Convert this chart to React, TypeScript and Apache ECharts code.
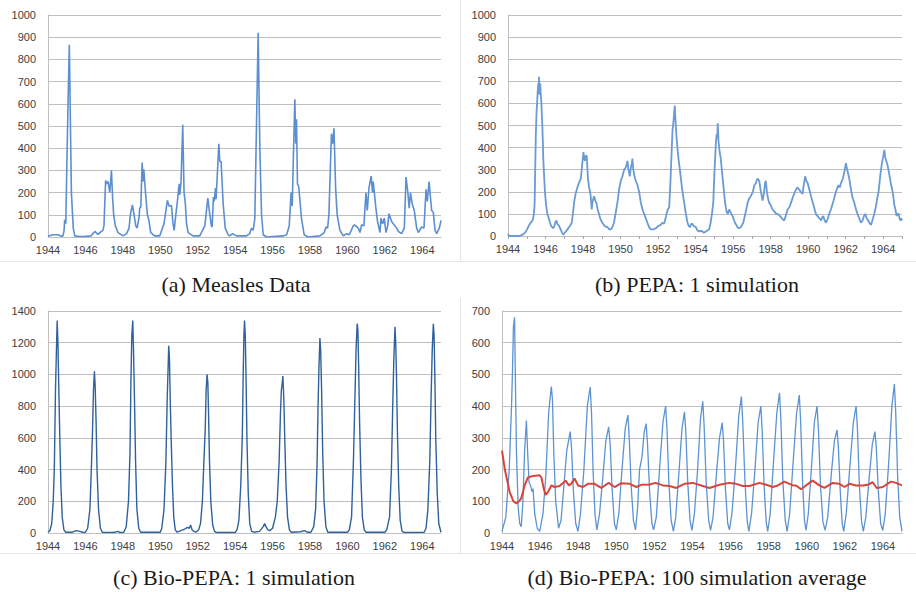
import React, { useEffect, useRef } from "react";
import * as echarts from "echarts";

// ---- Tick labels / axes ----
const yearLabels = [1944, 1946, 1948, 1950, 1952, 1954, 1956, 1958, 1960, 1962, 1964];
const captions = [
  "(a) Measles Data",
  "(b) PEPA: 1 simulation",
  "(c) Bio-PEPA: 1 simulation",
  "(d) Bio-PEPA: 100 simulation average",
];
const yMax = [1000, 1000, 1400, 700];
const yStep = [100, 100, 200, 100];

// ---- (a) Measles data [year, cases] ----
const measles = [
  [1944.0, 3], [1944.27, 10], [1944.53, 10], [1944.7, 4], [1944.8, 5], [1944.86, 30], [1944.89, 78], [1944.95, 60],
  [1944.98, 200], [1945.07, 600], [1945.14, 866], [1945.2, 500], [1945.25, 200], [1945.35, 40], [1945.43, 5],
  [1945.69, 2], [1946.0, 3], [1946.3, 5], [1946.5, 25], [1946.67, 12], [1946.85, 25], [1946.93, 30], [1946.99, 50],
  [1947.08, 255], [1947.14, 240], [1947.21, 250], [1947.3, 200], [1947.39, 300], [1947.45, 180], [1947.51, 100],
  [1947.6, 50], [1947.74, 20], [1948.01, 5], [1948.2, 15], [1948.33, 40], [1948.4, 100], [1948.51, 145], [1948.6, 100],
  [1948.69, 50], [1948.76, 40], [1948.87, 90], [1948.9, 130], [1948.96, 135], [1949.03, 335], [1949.08, 250],
  [1949.12, 305], [1949.21, 200], [1949.31, 100], [1949.38, 80], [1949.49, 20], [1949.7, 5], [1949.97, 5],
  [1950.2, 60], [1950.38, 165], [1950.47, 140], [1950.6, 140], [1950.68, 60], [1950.74, 30], [1950.83, 100],
  [1950.9, 150], [1951.01, 240], [1951.04, 190], [1951.11, 250], [1951.2, 505], [1951.27, 200], [1951.34, 150],
  [1951.4, 60], [1951.49, 20], [1951.75, 5], [1952.11, 5], [1952.38, 50], [1952.54, 175], [1952.65, 100],
  [1952.73, 50], [1952.77, 45], [1952.84, 180], [1952.88, 160], [1952.95, 220], [1952.98, 170], [1953.13, 420],
  [1953.18, 340], [1953.25, 340], [1953.36, 150], [1953.47, 40], [1953.63, 10], [1953.71, 5], [1953.86, 15],
  [1954.07, 5], [1954.61, 5], [1954.78, 15], [1954.87, 40], [1954.96, 30], [1955.05, 80], [1955.14, 500],
  [1955.23, 920], [1955.32, 400], [1955.41, 100], [1955.5, 10], [1955.68, 0], [1956.57, 5], [1956.75, 10],
  [1956.89, 50], [1956.99, 200], [1957.05, 140], [1957.1, 320], [1957.19, 620], [1957.24, 420], [1957.28, 530],
  [1957.33, 240], [1957.4, 225], [1957.55, 80], [1957.69, 10], [1957.9, 0], [1958.53, 5], [1958.76, 20],
  [1958.85, 45], [1958.94, 40], [1959.01, 100], [1959.12, 400], [1959.15, 465], [1959.21, 420], [1959.28, 490],
  [1959.37, 220], [1959.45, 100], [1959.6, 30], [1959.78, 5], [1959.95, 15], [1960.1, 10], [1960.31, 50],
  [1960.38, 55], [1960.58, 40], [1960.67, 20], [1960.76, 55], [1960.88, 50], [1960.99, 200], [1961.06, 120],
  [1961.15, 220], [1961.27, 275], [1961.34, 200], [1961.38, 250], [1961.52, 130], [1961.61, 70], [1961.74, 20],
  [1961.79, 85], [1961.88, 60], [1961.97, 85], [1962.06, 20], [1962.15, 50], [1962.22, 105], [1962.36, 70],
  [1962.63, 40], [1962.72, 25], [1962.89, 15], [1963.04, 40], [1963.13, 270], [1963.23, 200], [1963.3, 130],
  [1963.37, 200], [1963.46, 150], [1963.57, 120], [1963.7, 40], [1963.79, 20], [1963.96, 45], [1964.09, 40],
  [1964.2, 215], [1964.27, 160], [1964.36, 250], [1964.5, 120], [1964.59, 110], [1964.68, 30], [1964.77, 15],
  [1964.91, 40], [1965.0, 75],
];

// ---- (b) PEPA single simulation ----
const pepa = [
  [1944.0, 10], [1944.05, 0], [1944.6, 0], [1944.75, 5], [1944.85, 10], [1944.95, 20], [1945.02, 30], [1945.1, 45],
  [1945.2, 60], [1945.27, 65], [1945.33, 75], [1945.38, 100], [1945.42, 150], [1945.45, 300], [1945.48, 450],
  [1945.52, 560], [1945.55, 600], [1945.58, 650], [1945.61, 690], [1945.63, 640], [1945.65, 720], [1945.68, 660],
  [1945.7, 640], [1945.72, 690], [1945.74, 650], [1945.78, 600], [1945.83, 500], [1945.86, 420], [1945.88, 350],
  [1945.92, 280], [1945.97, 200], [1946.03, 140], [1946.1, 100], [1946.17, 80], [1946.24, 60], [1946.3, 45],
  [1946.36, 40], [1946.42, 35], [1946.47, 45], [1946.52, 60], [1946.58, 70], [1946.63, 55], [1946.69, 50],
  [1946.75, 40], [1946.81, 30], [1946.88, 15], [1946.95, 5], [1947.02, 15], [1947.08, 20], [1947.17, 30],
  [1947.25, 40], [1947.33, 50], [1947.4, 60], [1947.46, 100], [1947.52, 150], [1947.6, 190], [1947.7, 220],
  [1947.78, 240], [1947.88, 260], [1947.95, 320], [1948.02, 380], [1948.06, 350], [1948.1, 340], [1948.15, 365],
  [1948.2, 360], [1948.26, 260], [1948.32, 220], [1948.37, 200], [1948.41, 180], [1948.46, 120], [1948.5, 150],
  [1948.55, 170], [1948.59, 180], [1948.65, 160], [1948.71, 150], [1948.78, 120], [1948.85, 100], [1948.93, 75],
  [1949.03, 60], [1949.15, 45], [1949.3, 40], [1949.4, 30], [1949.48, 30], [1949.56, 40], [1949.65, 60],
  [1949.73, 100], [1949.83, 150], [1949.92, 210], [1950.01, 250], [1950.1, 270], [1950.19, 300], [1950.28, 310],
  [1950.37, 340], [1950.42, 300], [1950.49, 270], [1950.55, 310], [1950.6, 330], [1950.63, 350], [1950.68, 300],
  [1950.74, 270], [1950.81, 250], [1950.9, 230], [1950.99, 200], [1951.08, 150], [1951.17, 120], [1951.3, 90],
  [1951.43, 60], [1951.52, 40], [1951.61, 30], [1951.75, 30], [1951.88, 35], [1952.0, 45], [1952.14, 50],
  [1952.22, 60], [1952.32, 55], [1952.4, 80], [1952.45, 100], [1952.52, 120], [1952.59, 130], [1952.66, 250],
  [1952.73, 400], [1952.77, 480], [1952.8, 500], [1952.85, 550], [1952.89, 590], [1952.93, 520], [1952.98, 450],
  [1953.05, 380], [1953.1, 340], [1953.16, 300], [1953.27, 220], [1953.39, 150], [1953.48, 100], [1953.57, 60],
  [1953.64, 45], [1953.7, 40], [1953.77, 55], [1953.83, 55], [1953.9, 45], [1954.01, 40], [1954.1, 25],
  [1954.19, 20], [1954.3, 25], [1954.42, 15], [1954.54, 20], [1954.63, 25], [1954.72, 30], [1954.8, 60],
  [1954.87, 100], [1954.94, 150], [1955.0, 280], [1955.04, 350], [1955.08, 420], [1955.12, 460], [1955.15, 440],
  [1955.18, 510], [1955.22, 430], [1955.28, 380], [1955.34, 350], [1955.42, 280], [1955.49, 220], [1955.57, 150],
  [1955.65, 110], [1955.72, 100], [1955.78, 120], [1955.82, 115], [1955.88, 105], [1955.97, 90], [1956.1, 60],
  [1956.23, 40], [1956.32, 35], [1956.41, 40], [1956.48, 50], [1956.54, 60], [1956.62, 90], [1956.7, 120],
  [1956.77, 150], [1956.85, 170], [1956.94, 180], [1957.05, 200], [1957.13, 230], [1957.21, 240], [1957.3, 260],
  [1957.39, 250], [1957.48, 200], [1957.57, 160], [1957.65, 200], [1957.7, 240], [1957.74, 250], [1957.8, 200],
  [1957.86, 170], [1957.92, 150], [1958.0, 140], [1958.1, 120], [1958.2, 110], [1958.3, 100], [1958.37, 100],
  [1958.5, 90], [1958.6, 80], [1958.72, 70], [1958.8, 90], [1958.9, 120], [1959.0, 130], [1959.08, 150],
  [1959.2, 180], [1959.35, 210], [1959.42, 220], [1959.52, 210], [1959.6, 200], [1959.7, 190], [1959.76, 230],
  [1959.84, 270], [1959.9, 250], [1959.97, 240], [1960.06, 210], [1960.15, 180], [1960.28, 140], [1960.41, 100],
  [1960.5, 90], [1960.6, 80], [1960.68, 70], [1960.75, 85], [1960.8, 90], [1960.88, 70], [1960.95, 60],
  [1961.05, 80], [1961.12, 100], [1961.21, 120], [1961.35, 160], [1961.48, 200], [1961.6, 230], [1961.68, 220],
  [1961.75, 240], [1961.85, 260], [1961.95, 300], [1962.01, 330], [1962.08, 300], [1962.19, 260], [1962.3, 200],
  [1962.38, 170], [1962.46, 150], [1962.55, 120], [1962.63, 100], [1962.72, 80], [1962.81, 60], [1962.9, 70],
  [1962.97, 90], [1963.04, 100], [1963.12, 80], [1963.2, 70], [1963.26, 60], [1963.35, 50], [1963.42, 70],
  [1963.52, 100], [1963.6, 130], [1963.68, 170], [1963.75, 200], [1963.85, 280], [1963.93, 330], [1964.0, 360],
  [1964.06, 390], [1964.1, 360], [1964.16, 340], [1964.23, 320], [1964.32, 280], [1964.4, 240], [1964.5, 200],
  [1964.55, 170], [1964.59, 140], [1964.65, 120], [1964.71, 90], [1964.76, 100], [1964.82, 100], [1964.87, 80],
  [1964.91, 70], [1964.96, 80], [1965.0, 70],
];

// ---- (c) Bio-PEPA single simulation ----
const bioSingle = [
  [1944.0, 5], [1944.1, 15], [1944.2, 60], [1944.28, 200], [1944.34, 420], [1944.4, 900], [1944.45, 1150],
  [1944.49, 1340], [1944.53, 1200], [1944.58, 900], [1944.63, 600], [1944.69, 300], [1944.76, 100], [1944.85, 20],
  [1944.95, 5], [1945.3, 5], [1945.5, 15], [1945.7, 10], [1945.9, 3],
  [1946.0, 5], [1946.12, 30], [1946.24, 150], [1946.32, 420], [1946.38, 650], [1946.43, 900], [1946.48, 1020],
  [1946.52, 930], [1946.57, 700], [1946.62, 400], [1946.7, 150], [1946.8, 30], [1946.9, 5], [1947.5, 3],
  [1947.75, 10], [1947.85, 3],
  [1948.05, 5], [1948.18, 40], [1948.3, 200], [1948.38, 500], [1948.43, 950], [1948.48, 1250], [1948.53, 1340],
  [1948.57, 1150], [1948.62, 850], [1948.68, 450], [1948.75, 150], [1948.85, 30], [1948.95, 5], [1950.0, 5],
  [1950.08, 30], [1950.2, 150], [1950.3, 450], [1950.37, 850], [1950.42, 1050], [1950.45, 1180], [1950.49, 1100],
  [1950.53, 850], [1950.58, 600], [1950.65, 300], [1950.72, 100], [1950.8, 20], [1950.9, 5], [1951.1, 15],
  [1951.3, 25], [1951.45, 35], [1951.55, 30], [1951.62, 50], [1951.7, 20], [1951.8, 10], [1951.9, 5],
  [1952.05, 20], [1952.15, 60], [1952.25, 200], [1952.33, 450], [1952.4, 650], [1952.45, 900], [1952.5, 1000],
  [1952.54, 950], [1952.58, 750], [1952.63, 450], [1952.7, 200], [1952.8, 50], [1952.9, 10], [1953.0, 3],
  [1954.0, 3],
  [1954.1, 20], [1954.2, 80], [1954.3, 300], [1954.38, 600], [1954.43, 1000], [1954.47, 1250], [1954.5, 1340],
  [1954.54, 1250], [1954.58, 1000], [1954.63, 600], [1954.7, 250], [1954.78, 60], [1954.88, 10], [1955.0, 5],
  [1955.3, 10], [1955.5, 40], [1955.58, 60], [1955.65, 40], [1955.75, 20], [1955.85, 15],
  [1956.0, 30], [1956.15, 100], [1956.25, 200], [1956.35, 450], [1956.42, 750], [1956.47, 900], [1956.52, 950],
  [1956.55, 990], [1956.6, 850], [1956.65, 600], [1956.72, 300], [1956.8, 100], [1956.9, 20], [1957.0, 5],
  [1957.5, 8], [1957.7, 15], [1957.85, 5],
  [1958.05, 5], [1958.2, 40], [1958.3, 150], [1958.38, 450], [1958.43, 800], [1958.48, 1050], [1958.53, 1230],
  [1958.57, 1150], [1958.62, 900], [1958.68, 500], [1958.75, 200], [1958.85, 40], [1958.95, 5], [1960.0, 5],
  [1960.1, 20], [1960.22, 100], [1960.32, 450], [1960.4, 850], [1960.46, 1150], [1960.52, 1320], [1960.56, 1280],
  [1960.6, 1050], [1960.65, 700], [1960.72, 350], [1960.8, 100], [1960.9, 20], [1961.0, 5], [1962.0, 5],
  [1962.1, 20], [1962.25, 100], [1962.35, 400], [1962.42, 800], [1962.48, 1100], [1962.54, 1300], [1962.58, 1200],
  [1962.62, 1000], [1962.67, 650], [1962.74, 300], [1962.82, 80], [1962.92, 10], [1963.05, 3], [1964.1, 5],
  [1964.2, 30], [1964.3, 150], [1964.4, 450], [1964.47, 850], [1964.53, 1150], [1964.59, 1320], [1964.63, 1250],
  [1964.67, 1000], [1964.72, 600], [1964.8, 250], [1964.88, 60], [1965.0, 5],
];

// ---- (d) Bio-PEPA: one run (blue) and 100-run average (red) ----
const bioRun = [
  [1944.0, 5], [1944.2, 50], [1944.38, 200], [1944.5, 400], [1944.55, 510], [1944.6, 650], [1944.66, 680],
  [1944.7, 500], [1944.76, 250], [1944.85, 80], [1944.93, 30], [1945.01, 20],
  [1945.1, 100], [1945.18, 250], [1945.28, 355], [1945.35, 250], [1945.42, 160], [1945.5, 150], [1945.58, 130],
  [1945.63, 140], [1945.72, 60], [1945.85, 15], [1945.98, 5],
  [1946.15, 60], [1946.3, 180], [1946.45, 380], [1946.59, 462], [1946.65, 420], [1946.72, 250], [1946.82, 100], [1946.97, 15],
  [1947.1, 40], [1947.25, 150], [1947.4, 260], [1947.58, 320], [1947.65, 270], [1947.75, 130], [1947.87, 30], [1947.99, 5],
  [1948.12, 60], [1948.3, 200], [1948.48, 400], [1948.63, 460], [1948.7, 380], [1948.78, 200], [1948.88, 60], [1948.98, 10],
  [1949.12, 60], [1949.3, 180], [1949.45, 290], [1949.6, 335], [1949.68, 280], [1949.78, 140], [1949.9, 30], [1950.0, 10],
  [1950.13, 60], [1950.3, 200], [1950.47, 330], [1950.61, 372], [1950.68, 300], [1950.78, 150], [1950.9, 40], [1951.01, 10],
  [1951.12, 80], [1951.22, 200], [1951.27, 215], [1951.35, 240], [1951.47, 320], [1951.57, 345], [1951.64, 280],
  [1951.75, 130], [1951.87, 30], [1951.96, 10],
  [1952.1, 50], [1952.27, 200], [1952.45, 350], [1952.59, 400], [1952.66, 330], [1952.76, 160], [1952.88, 40], [1953.0, 5],
  [1953.12, 50], [1953.3, 200], [1953.45, 330], [1953.58, 382], [1953.65, 320], [1953.75, 160], [1953.87, 40], [1953.97, 8],
  [1954.1, 60], [1954.27, 200], [1954.42, 360], [1954.54, 415], [1954.61, 340], [1954.72, 160], [1954.85, 40], [1954.95, 8],
  [1955.08, 50], [1955.25, 180], [1955.42, 300], [1955.56, 348], [1955.63, 290], [1955.73, 140], [1955.85, 30], [1955.94, 10],
  [1956.07, 60], [1956.25, 200], [1956.43, 370], [1956.57, 430], [1956.64, 350], [1956.75, 170], [1956.87, 40], [1956.96, 5],
  [1957.1, 60], [1957.28, 200], [1957.45, 350], [1957.59, 400], [1957.66, 320], [1957.76, 150], [1957.87, 35], [1957.95, 5],
  [1958.08, 60], [1958.25, 220], [1958.43, 380], [1958.57, 442], [1958.64, 360], [1958.74, 170], [1958.87, 40], [1958.97, 5],
  [1959.1, 60], [1959.28, 220], [1959.47, 380], [1959.61, 435], [1959.68, 350], [1959.78, 160], [1959.88, 40], [1959.96, 8],
  [1960.08, 60], [1960.24, 200], [1960.4, 350], [1960.54, 400], [1960.61, 330], [1960.72, 150], [1960.85, 35], [1960.96, 8],
  [1961.1, 50], [1961.28, 180], [1961.45, 290], [1961.59, 325], [1961.66, 270], [1961.76, 130], [1961.86, 30], [1961.94, 5],
  [1962.07, 60], [1962.25, 200], [1962.45, 350], [1962.59, 400], [1962.66, 330], [1962.76, 150], [1962.88, 35], [1962.97, 5],
  [1963.1, 50], [1963.27, 170], [1963.44, 280], [1963.58, 320], [1963.65, 270], [1963.76, 130], [1963.88, 30], [1963.99, 8],
  [1964.12, 60], [1964.3, 220], [1964.47, 400], [1964.6, 470], [1964.67, 380], [1964.77, 180], [1964.88, 50], [1965.0, 5],
];

const bioAverage = [
  [1944.0, 260], [1944.15, 200], [1944.4, 130], [1944.6, 100], [1944.75, 93], [1944.9, 100], [1945.01, 110],
  [1945.19, 150], [1945.36, 175], [1945.63, 180], [1945.98, 182], [1946.07, 175], [1946.19, 140], [1946.29, 120],
  [1946.42, 130], [1946.59, 150], [1946.76, 145], [1947.02, 148], [1947.34, 165], [1947.51, 150], [1947.63, 155],
  [1947.81, 172], [1947.99, 150], [1948.25, 145], [1948.51, 155], [1948.86, 155], [1949.21, 142], [1949.6, 158],
  [1949.91, 145], [1950.26, 157], [1950.7, 155], [1951.05, 145], [1951.31, 152], [1951.75, 153], [1952.06, 158],
  [1952.45, 150], [1952.8, 148], [1953.15, 142], [1953.58, 155], [1954.02, 158], [1954.46, 150], [1954.89, 142],
  [1955.42, 152], [1955.94, 158], [1956.29, 155], [1956.64, 148], [1956.99, 148], [1957.52, 158], [1957.87, 152],
  [1958.22, 145], [1958.48, 150], [1958.83, 162], [1959.27, 150], [1959.44, 150], [1959.7, 138], [1959.96, 150],
  [1960.31, 165], [1960.66, 150], [1960.93, 142], [1961.36, 158], [1961.71, 155], [1961.98, 145], [1962.24, 155],
  [1962.59, 150], [1962.94, 150], [1963.2, 152], [1963.46, 160], [1963.67, 142], [1963.99, 145], [1964.42, 162],
  [1964.69, 158], [1965.0, 150],
];

const GRID_COLOR = "#bfbfbf";
const LABEL_COLOR = "#404040";
const LABEL_FONT = "Liberation Sans";

export default function App() {
  const ref = useRef<HTMLDivElement>(null);

  useEffect(() => {
    if (!ref.current) return;
    const chart = echarts.init(ref.current, undefined, { renderer: "svg" });

    const grids = [
      { left: 48, top: 15, width: 393, height: 222 },
      { left: 508, top: 15, width: 394, height: 221 },
      { left: 48, top: 311, width: 393, height: 222 },
      { left: 502, top: 311, width: 400, height: 222 },
    ];

    const xAxes = grids.map((_, i) => ({
      type: "value",
      gridIndex: i,
      min: 1944,
      max: 1965,
      interval: 1,
      axisLine: { show: true, lineStyle: { color: GRID_COLOR, width: 1 } },
      axisTick: { show: i === 1, length: 3, inside: false, lineStyle: { color: "#a6a6a6" } },
      splitLine: { show: false },
      axisLabel: {
        color: LABEL_COLOR,
        fontFamily: LABEL_FONT,
        fontSize: 11,
        margin: 7,
        formatter: (v: number) => (yearLabels.indexOf(v) >= 0 ? String(v) : ""),
      },
    }));

    const yAxes = grids.map((_, i) => ({
      type: "value",
      gridIndex: i,
      min: 0,
      max: yMax[i],
      interval: yStep[i],
      axisLine: { show: true, lineStyle: { color: GRID_COLOR, width: 1 } },
      axisTick: { show: false },
      splitLine: { show: true, lineStyle: { color: GRID_COLOR, width: 1 } },
      axisLabel: {
        color: LABEL_COLOR,
        fontFamily: LABEL_FONT,
        fontSize: 11,
        margin: 12,
        formatter: (v: number) => String(v),
      },
    }));

    const mk = (data: number[][], idx: number, color: string, width: number, z = 2) => ({
      type: "line",
      xAxisIndex: idx,
      yAxisIndex: idx,
      data,
      showSymbol: false,
      symbol: "none",
      z,
      lineStyle: { color, width },
      itemStyle: { color },
    });

    const capFont = '22px "Liberation Serif"';
    const caption = (text: string, x: number, y: number) => ({
      type: "text",
      x,
      y,
      silent: true,
      style: { text, font: capFont, fill: "#1a1a1a", textAlign: "center", textVerticalAlign: "middle" },
    });
    const border = (x1: number, y1: number, x2: number, y2: number) => ({
      type: "line",
      silent: true,
      shape: { x1, y1, x2, y2 },
      style: { stroke: "#e6e6e6", lineWidth: 1 },
    });

    chart.setOption({
      animation: false,
      backgroundColor: "#ffffff",
      grid: grids,
      xAxis: xAxes,
      yAxis: yAxes,
      series: [
        mk(measles, 0, "#5b8fd0", 1.6),
        mk(pepa, 1, "#6a9bd4", 1.8),
        mk(bioSingle, 2, "#2f619c", 1.4),
        mk(bioRun, 3, "#5b93d3", 1.3),
        mk(bioAverage, 3, "#d9453c", 2, 3),
      ],
      graphic: [
        border(0, 261.5, 916, 261.5),
        border(460.5, 0, 460.5, 261),
        border(0, 553.5, 916, 553.5),
        border(460.5, 298, 460.5, 553),
        caption(captions[0], 236, 284),
        caption(captions[1], 697, 284),
        caption(captions[2], 234, 577),
        caption(captions[3], 697, 577),
      ],
    });

    return () => chart.dispose();
  }, []);

  return (
    <div
      ref={ref}
      style={{ position: "fixed", left: 0, top: 0, width: 916, height: 592, background: "#fff" }}
    />
  );
}
